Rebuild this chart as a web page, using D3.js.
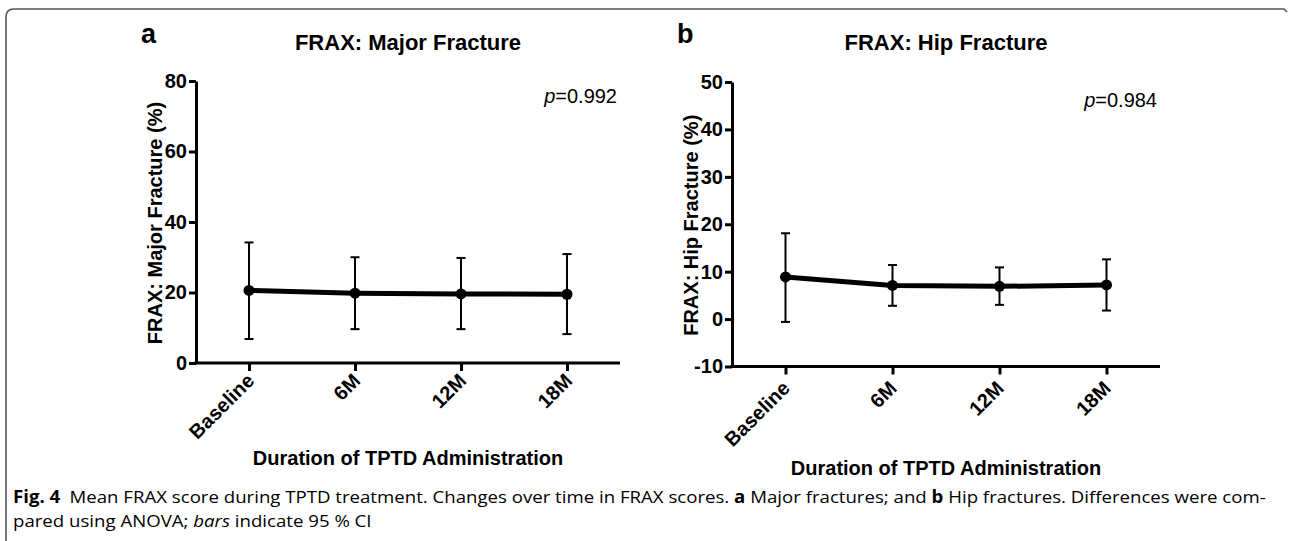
<!DOCTYPE html>
<html>
<head>
<meta charset="utf-8">
<script src="https://cdn.jsdelivr.net/npm/d3@7"></script>
<style>
  body { margin: 0; background: #fff; }
  svg text { font-family: "Liberation Sans", Arial, sans-serif; }
</style>
</head>
<body>
<script>
const WIDTH = 1289;
const HEIGHT = 541;

const categories = ["Baseline", "6M", "12M", "18M"];

const majorMean = [20.6, 19.8, 19.6, 19.5];
const majorLow = [6.8, 9.6, 9.6, 8.2];
const majorHigh = [34.2, 30.0, 29.8, 30.9];
const majorTicks = [0, 20, 40, 60, 80];

const hipMean = [8.9, 7.1, 6.9, 7.2];
const hipLow = [-0.6, 2.8, 3.0, 1.8];
const hipHigh = [18.1, 11.4, 10.9, 12.6];
const hipTicks = [-10, 0, 10, 20, 30, 40, 50];

let svg = d3.select("body")
            .append("svg")
            .attr("width", WIDTH)
            .attr("height", HEIGHT);

// frame round the figure
svg.append("path")
   .attr("d", "M6,541 L6,17 Q6,9 14,9 L1284,9 L1287,12")
   .attr("fill", "none")
   .attr("stroke", "#555")
   .attr("stroke-width", 1.6);

const drawPanel = (opt) => {
  const x = d3.scalePoint()
              .domain(categories)
              .range([opt.left, opt.right])
              .padding(0.5);
  const y = d3.scaleLinear()
              .domain([opt.ticks[0], opt.ticks[opt.ticks.length - 1]])
              .range([opt.bottom, opt.top]);

  let g = svg.append("g");

  // y axis (plain hyphen for negatives, like the source)
  let yAxis = g.append("g")
               .attr("transform", `translate(${opt.left},0)`)
               .call(d3.axisLeft(y).tickValues(opt.ticks).tickFormat(d => String(d))
                       .tickSize(7).tickPadding(2).tickSizeOuter(0));
  yAxis.select(".domain").attr("stroke-width", 3);
  yAxis.selectAll(".tick line").attr("stroke-width", 3);
  yAxis.selectAll(".tick text")
       .attr("font-size", 20)
       .attr("font-weight", "bold")
       .attr("fill", "#000");

  // x axis
  let xAxis = g.append("g")
               .attr("transform", `translate(0,${opt.bottom})`)
               .call(d3.axisBottom(x).tickSize(8).tickSizeOuter(0));
  xAxis.select(".domain").attr("stroke-width", 3).attr("d", `M${opt.left - 1.5},0H${opt.right}`);
  xAxis.selectAll(".tick line").attr("stroke-width", 3);
  xAxis.selectAll(".tick text")
       .attr("x", 0)
       .attr("y", 0)
       .attr("dy", 0)
       .attr("text-anchor", "end")
       .attr("transform", `translate(${opt.labDx},${opt.labDy}) rotate(-45)`)
       .attr("font-size", 20)
       .attr("font-weight", "bold")
       .attr("fill", "#000");

  // error bars
  let bars = g.append("g")
              .selectAll("g")
              .data(categories)
              .enter().append("g");
  bars.append("line")
      .attr("x1", d => x(d)).attr("x2", d => x(d))
      .attr("y1", (d, i) => y(opt.low[i]))
      .attr("y2", (d, i) => y(opt.high[i]))
      .attr("stroke", "#000").attr("stroke-width", 2);
  bars.append("line")
      .attr("x1", d => x(d) - 4.5).attr("x2", d => x(d) + 4.5)
      .attr("y1", (d, i) => y(opt.high[i]))
      .attr("y2", (d, i) => y(opt.high[i]))
      .attr("stroke", "#000").attr("stroke-width", 2);
  bars.append("line")
      .attr("x1", d => x(d) - 4.5).attr("x2", d => x(d) + 4.5)
      .attr("y1", (d, i) => y(opt.low[i]))
      .attr("y2", (d, i) => y(opt.low[i]))
      .attr("stroke", "#000").attr("stroke-width", 2);

  // mean line and points
  const line = d3.line()
                 .x((d, i) => x(categories[i]))
                 .y(d => y(d));
  g.append("path")
   .datum(opt.mean)
   .attr("d", line)
   .attr("fill", "none")
   .attr("stroke", "#000")
   .attr("stroke-width", 5);
  g.selectAll("circle.pt")
   .data(opt.mean)
   .enter().append("circle")
   .attr("class", "pt")
   .attr("cx", (d, i) => x(categories[i]))
   .attr("cy", d => y(d))
   .attr("r", 5.5)
   .attr("fill", "#000");

  // texts
  g.append("text")
   .attr("x", opt.left - 55).attr("y", 43)
   .attr("font-size", 27).attr("font-weight", "bold")
   .text(opt.letter);
  g.append("text")
   .attr("x", (opt.left + opt.right) / 2).attr("y", 50)
   .attr("text-anchor", "middle")
   .attr("font-size", 22).attr("font-weight", "bold")
   .text(opt.title);
  g.append("text")
   .attr("transform", `translate(${opt.left - 34},${(opt.top + opt.bottom) / 2 + 1}) rotate(-90)`)
   .attr("text-anchor", "middle")
   .attr("font-size", 20).attr("font-weight", "bold")
   .text(opt.ylabel);
  g.append("text")
   .attr("x", (opt.left + opt.right) / 2).attr("y", opt.durY)
   .attr("text-anchor", "middle")
   .attr("font-size", 20).attr("font-weight", "bold")
   .text("Duration of TPTD Administration");
  let p = g.append("text")
           .attr("x", opt.right - 3).attr("y", opt.pY)
           .attr("text-anchor", "end")
           .attr("font-size", 20);
  p.append("tspan").attr("font-style", "italic").text("p");
  p.append("tspan").text("=" + opt.p);
};

drawPanel({
  left: 196, right: 620, top: 81, bottom: 363,
  ticks: majorTicks, mean: majorMean, low: majorLow, high: majorHigh,
  letter: "a", title: "FRAX: Major Fracture", ylabel: "FRAX: Major Fracture (%)",
  p: "0.992", pY: 103, durY: 465, labDx: 6, labDy: 19
});

drawPanel({
  left: 732, right: 1160, top: 82, bottom: 366.5,
  ticks: hipTicks, mean: hipMean, low: hipLow, high: hipHigh,
  letter: "b", title: "FRAX: Hip Fracture", ylabel: "FRAX: Hip Fracture (%)",
  p: "0.984", pY: 107, durY: 475, labDx: 5, labDy: 23
});

// caption, squeezed to the width of the page like the source
const captionLines = [
  [["Fig. 4", "bold"], ["\u2002Mean FRAX score during TPTD treatment. Changes over time in FRAX scores. ", ""],
   ["a", "bold"], [" Major fractures; and ", ""], ["b", "bold"], [" Hip fractures. Differences were com-", ""]],
  [["pared using ANOVA; ", ""], ["bars", "italic"], [" indicate 95 % CI", ""]]
];
const captionY = [503, 527];
let firstWidth = 0;

captionLines.forEach((parts, li) => {
  let t = svg.append("text")
             .attr("x", 0).attr("y", 0)
             .attr("font-size", 17)
             .style("font-family", "'Open Sans', 'Noto Sans', sans-serif");
  parts.forEach(([s, st]) => {
    let ts = t.append("tspan").text(s);
    if (st === "bold") ts.attr("font-weight", "bold");
    if (st === "italic") ts.attr("font-style", "italic");
  });
  if (li === 0) firstWidth = t.node().getComputedTextLength();
  const k = (1266 - 13) / firstWidth;
  t.attr("transform", `translate(13,${captionY[li]}) scale(${k},1)`);
});
</script>
</body>
</html>
